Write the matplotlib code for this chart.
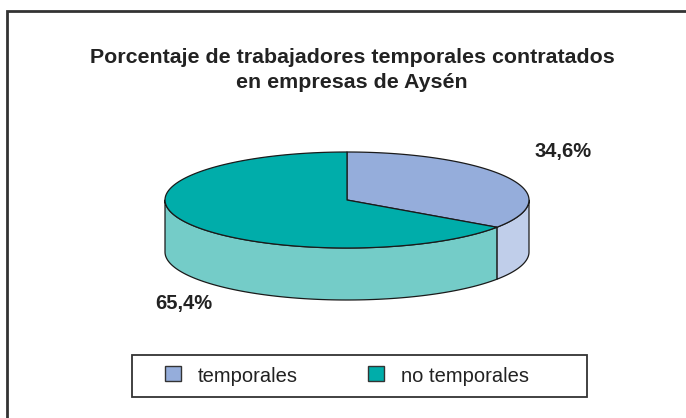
import numpy as np
import matplotlib.pyplot as plt
from matplotlib.patches import Polygon, Rectangle

plt.rcParams['font.family'] = ['Liberation Sans', 'DejaVu Sans']

title = "Porcentaje de trabajadores temporales contratados\nen empresas de Aysén"
labels = ["temporales", "no temporales"]
values = [34.6, 65.4]
label_text = ["34,6%", "65,4%"]
top_colors = ["#95ADDB", "#00ADAA"]
side_colors = ["#C0CEEA", "#74CCC8"]

W, H = 686, 418
fig = plt.figure(figsize=(W / 100, H / 100), dpi=100)
ax = fig.add_axes([0, 0, 1, 1])
ax.set_xlim(0, W)
ax.set_ylim(H, 0)
ax.axis('off')

# pie geometry (pixels)
cx, cy = 347, 200
ra, rb = 182, 48
depth = 52
edge = dict(edgecolor='#1a1a1a', linewidth=0.9, joinstyle='round')


def pt(t, dy=0.0):
    t = np.radians(t)
    return np.column_stack([cx + ra * np.cos(t), cy - rb * np.sin(t) + dy])


fracs = np.array(values) / sum(values)
starts = 90 - 360 * np.concatenate([[0], np.cumsum(fracs)[:-1]])
ends = starts - 360 * fracs

# side walls (front half: t in [-180, 0])
for s, e, c in zip(starts, ends, side_colors):
    for shift in (0, 360, -360):
        a0 = max(e + shift, -180)
        a1 = min(s + shift, 0)
        if a1 > a0:
            t = np.linspace(a0, a1, 100)
            poly = np.vstack([pt(t), pt(t[::-1], depth)])
            ax.add_patch(Polygon(poly, closed=True, facecolor=c, **edge))

# top wedges
for s, e, c in zip(starts, ends, top_colors):
    t = np.linspace(s, e, 200)
    poly = np.vstack([[cx, cy], pt(t)])
    ax.add_patch(Polygon(poly, closed=True, facecolor=c, **edge))

# percentage labels
ax.text(563, 151, label_text[0], ha='center', va='center', fontsize=14.5,
        fontweight='bold', color='#222222')
ax.text(184, 304, label_text[1], ha='center', va='center', fontsize=14.5,
        fontweight='bold', color='#222222')

# title
ax.text(352, 70, title, ha='center', va='center', fontsize=15.4,
        fontweight='bold', color='#222222', linespacing=1.45)

# outer frame (left and top)
ax.plot([7, 7, W], [H, 11, 11], color='#333333', lw=2, solid_joinstyle='miter')

# legend
ax.add_patch(Rectangle((132, 355), 455, 42, facecolor='white',
                       edgecolor='#333333', lw=1.3))
for i, (lab, c) in enumerate(zip(labels, top_colors)):
    mx = 165 + i * 203
    ax.add_patch(Rectangle((mx, 366), 16, 15, facecolor=c,
                           edgecolor='#333333', lw=1.0))
    ax.text(mx + 33, 376, lab, ha='left', va='center', fontsize=14.5,
            color='#222222')

fig.savefig('out.png', dpi=100)
